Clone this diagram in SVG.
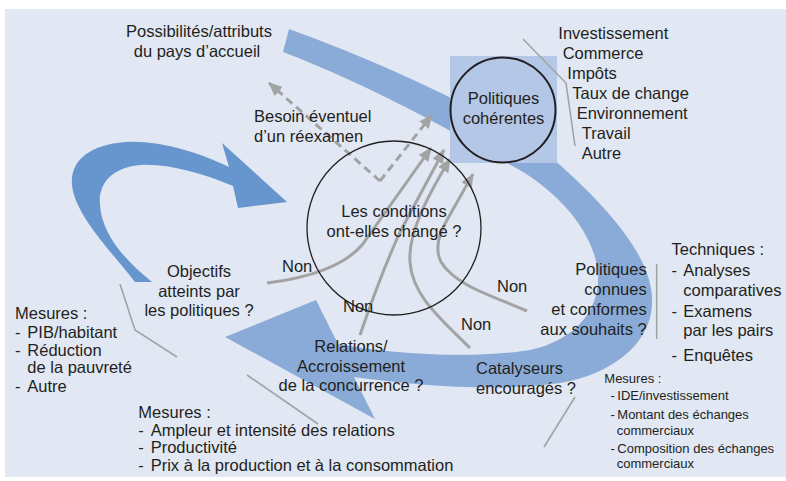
<svg xmlns="http://www.w3.org/2000/svg" width="786" height="481" viewBox="0 0 786 481">
  <defs>
    <style>
      .t { font-family: "Liberation Sans", Arial, Helvetica, sans-serif; font-size: 16.5px; fill: #231F20; }
      .s { font-family: "Liberation Sans", Arial, Helvetica, sans-serif; font-size: 13px; fill: #231F20; }
      .mid { text-anchor: middle; }
      .end { text-anchor: end; }
      .ring { fill: none; stroke: #231F20; }
      .flow { stroke: none; }
      .link { fill: none; stroke: #A3A3A3; stroke-width: 3; }
      .dash { fill: none; stroke: #A3A3A3; stroke-width: 3; stroke-dasharray: 8 5; }
      .guide { fill: none; stroke: #A3A3A3; stroke-width: 1.6; }
    </style>
    <marker id="head" markerUnits="userSpaceOnUse" markerWidth="16" markerHeight="14" refX="13" refY="6" orient="auto" viewBox="0 0 16 12">
      <path d="M0,0 L14,6 L0,12 Z" fill="#A3A3A3"/>
    </marker>
  </defs>

  <!-- panel -->
  <rect x="5" y="9" width="781" height="468" fill="#E1E7F3"/>

  <!-- large flows -->
  <g id="flows">
    <path class="flow" fill="#8AABD8" d="M289,29 C380,62 500,115 560,165 C610,210 655,260 652,305 C650,345 610,375 560,383 C500,392 420,386 354,377 L375,419 L225,337 L316,300 L338,344 C400,356 480,358 530,350 C575,340 600,310 598,275 C596,235 560,190 507,163 C450,130 370,85 283,52 Z"/>
    <path class="flow" fill="#6795CD" d="M135,282 C110,250 75,215 72,185 C70,160 90,145 125,142 C160,140 200,153 229,167 L222,143 L287,202 L238,208 L233,186 C200,172 165,163 140,165 C110,168 98,185 100,205 C102,235 125,260 152,282 Z"/>
  </g>

  <!-- connectors -->
  <g id="connectors">
    <path class="dash" d="M380,181 L269,83" marker-end="url(#head)"/>
    <path class="dash" d="M380,181 L432,115" marker-end="url(#head)"/>
    <path class="link" d="M267,283 C310,278 345,265 362,245 L431,148" marker-end="url(#head)"/>
    <path class="link" d="M360,335 C372,300 385,265 400,232 L444,150" marker-end="url(#head)"/>
    <path class="link" d="M470,348 C440,318 412,295 410,262 C408,235 425,200 450,159" marker-end="url(#head)"/>
    <path class="link" d="M527,311 C490,295 455,285 441,262 C434,248 440,232 447,220 L473,174" marker-end="url(#head)"/>
    <text class="t" x="282" y="272">Non</text>
    <text class="t" x="343" y="312">Non</text>
    <text class="t" x="497" y="292">Non</text>
    <text class="t" x="461" y="330">Non</text>
  </g>

  <g id="host">
    <text class="t mid" x="199" y="37">Possibilités/attributs</text>
    <text class="t mid" x="197" y="56.5">du pays d’accueil</text>
  </g>

  <g id="review">
    <text class="t" x="254" y="122">Besoin éventuel</text>
    <text class="t" x="254" y="141.5">d’un réexamen</text>
  </g>

  <g id="coherent">
    <rect x="450" y="56" width="107" height="107" fill="#B4C7E7"/>
    <circle class="ring" cx="503" cy="110" r="52.5" stroke-width="2"/>
    <text class="t mid" x="503.5" y="103.5">Politiques</text>
    <text class="t mid" x="503.5" y="123.5">cohérentes</text>
  </g>

  <g id="areas">
    <polyline class="guide" points="523,39 566,83 575,146"/>
    <text class="t" x="558.3" y="39.3">Investissement</text>
    <text class="t" x="562.7" y="59.3">Commerce</text>
    <text class="t" x="567.3" y="79.3">Impôts</text>
    <text class="t" x="572.3" y="99.3">Taux de change</text>
    <text class="t" x="576.7" y="119.3">Environnement</text>
    <text class="t" x="581.7" y="139.3">Travail</text>
    <text class="t" x="581.7" y="159.3">Autre</text>
  </g>

  <g id="conditions">
    <circle class="ring" cx="394" cy="228" r="87" stroke-width="1.3"/>
    <text class="t mid" x="394" y="217">Les conditions</text>
    <text class="t mid" x="394" y="236.5">ont-elles changé ?</text>
  </g>

  <g id="objectives">
    <text class="t mid" x="199" y="277">Objectifs</text>
    <text class="t mid" x="199" y="296.5">atteints par</text>
    <text class="t mid" x="199" y="316">les politiques ?</text>
  </g>

  <g id="known">
    <text class="t end" x="646.7" y="275">Politiques</text>
    <text class="t end" x="646.7" y="295">connues</text>
    <text class="t end" x="646.7" y="315">et conformes</text>
    <text class="t end" x="646.7" y="335">aux souhaits ?</text>
    <line class="guide" x1="656.7" y1="264" x2="656.7" y2="339" stroke-width="2"/>
  </g>

  <g id="techniques">
    <text class="t" x="671.5" y="254.5">Techniques :</text>
    <text class="t" x="671.5" y="275.5">-</text>
    <text class="t" x="683.3" y="275.5">Analyses</text>
    <text class="t" x="683.3" y="295.5">comparatives</text>
    <text class="t" x="671.5" y="316.5">-</text>
    <text class="t" x="683.3" y="316.5">Examens</text>
    <text class="t" x="683.3" y="336">par les pairs</text>
    <text class="t" x="671.5" y="360.5">-</text>
    <text class="t" x="683.3" y="360.5">Enquêtes</text>
  </g>

  <g id="relations">
    <text class="t mid" x="351" y="352">Relations/</text>
    <text class="t mid" x="351" y="371.5">Accroissement</text>
    <text class="t mid" x="351" y="391">de la concurrence ?</text>
  </g>

  <g id="catalysts">
    <text class="t" x="476" y="374">Catalyseurs</text>
    <text class="t" x="476" y="393.5">encouragés ?</text>
    <line class="guide" x1="575" y1="397" x2="544" y2="447"/>
  </g>

  <g id="measures-left">
    <polyline class="guide" points="120,284 135,330 177,357"/>
    <text class="t" x="15" y="318.5">Mesures :</text>
    <text class="t" x="15" y="337.5">-</text>
    <text class="t" x="27.3" y="337.5">PIB/habitant</text>
    <text class="t" x="15" y="355.5">-</text>
    <text class="t" x="27.3" y="355.5">Réduction</text>
    <text class="t" x="27.3" y="373">de la pauvreté</text>
    <text class="t" x="15" y="391.5">-</text>
    <text class="t" x="27.3" y="391.5">Autre</text>
  </g>

  <g id="measures-bottom">
    <line class="guide" x1="247" y1="375" x2="318" y2="424"/>
    <text class="t" x="138.3" y="417.5">Mesures :</text>
    <text class="t" x="138.3" y="435.5">-</text>
    <text class="t" x="150.7" y="435.5">Ampleur et intensité des relations</text>
    <text class="t" x="138.3" y="453">-</text>
    <text class="t" x="150.7" y="453">Productivité</text>
    <text class="t" x="138.3" y="470.5">-</text>
    <text class="t" x="150.7" y="470.5">Prix à la production et à la consommation</text>
  </g>

  <g id="measures-right">
    <text class="s" x="604.3" y="383.3">Mesures :</text>
    <text class="s" x="610.5" y="400">-</text>
    <text class="s" x="617.3" y="400">IDE/investissement</text>
    <text class="s" x="610.5" y="419.3">-</text>
    <text class="s" x="617.3" y="419.3">Montant des échanges</text>
    <text class="s" x="616.7" y="435">commerciaux</text>
    <text class="s" x="610.5" y="452.7">-</text>
    <text class="s" x="617.3" y="452.7">Composition des échanges</text>
    <text class="s" x="616.7" y="468.3">commerciaux</text>
  </g>
</svg>
